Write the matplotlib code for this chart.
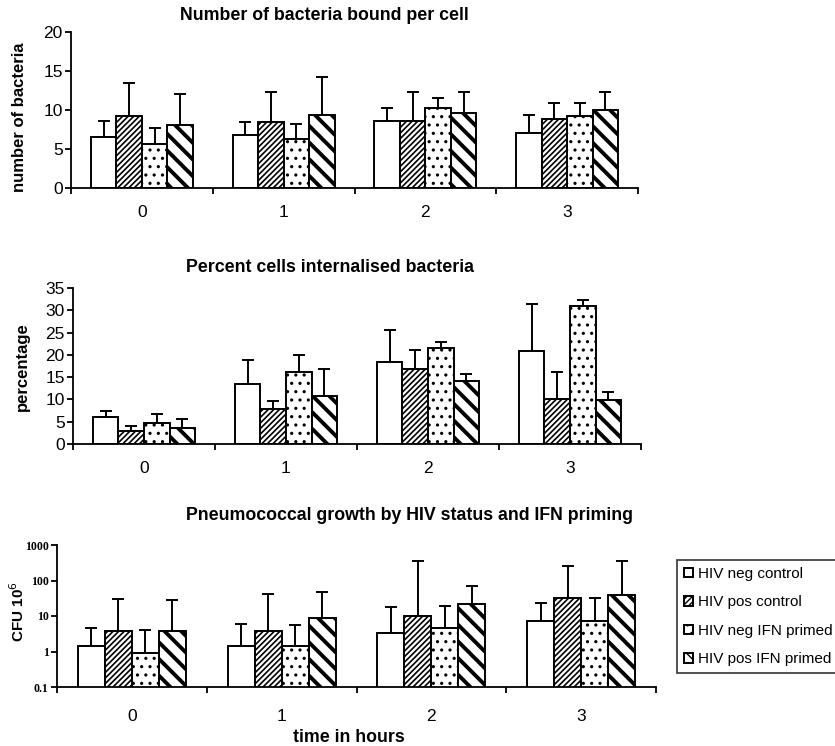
import matplotlib
matplotlib.use("Agg")
import matplotlib.pyplot as plt
import numpy as np

plt.rcParams['font.family'] = ['Liberation Sans', 'DejaVu Sans']

times = ["0", "1", "2", "3"]
series = ["HIV neg control", "HIV pos control", "HIV neg IFN primed", "HIV pos IFN primed"]

# Panel 1: number of bacteria bound per cell (mean, top of error bar)
bound_mean = [[6.5, 6.75, 8.6, 7.1],
              [9.2, 8.5, 8.6, 8.8],
              [5.6, 6.3, 10.2, 9.2],
              [8.1, 9.4, 9.6, 10.0]]
bound_top = [[8.6, 8.4, 10.3, 9.4],
             [13.4, 12.3, 12.3, 10.9],
             [7.7, 8.2, 11.5, 10.9],
             [12.1, 14.2, 12.3, 12.3]]

# Panel 2: percent cells internalised bacteria
intern_mean = [[6.0, 13.4, 18.5, 20.8],
               [2.9, 7.8, 16.8, 10.1],
               [4.7, 16.1, 21.5, 30.9],
               [3.7, 10.7, 14.1, 9.8]]
intern_top = [[7.4, 18.8, 25.6, 31.3],
              [4.0, 9.7, 21.1, 16.1],
              [6.8, 19.9, 22.8, 32.2],
              [5.7, 16.8, 15.7, 11.7]]

# Panel 3: pneumococcal growth (CFU 10^6, log scale)
growth_mean = [[1.4, 1.4, 3.3, 7.2],
               [3.7, 3.7, 10.0, 32.0],
               [0.93, 1.4, 4.6, 7.2],
               [3.7, 8.8, 21.6, 38.0]]
growth_top = [[4.5, 5.8, 17.5, 22.6],
              [31.0, 41.0, 354.0, 263.0],
              [4.0, 5.5, 19.0, 32.0],
              [28.0, 46.0, 72.0, 354.0]]

hatches = [None, '//////', '..', '\\\\']
hatch_lw = [1.0, 1.2, 1.1, 2.8]

fig = plt.figure(figsize=(8.35, 7.46), dpi=100)
W, H = 835.0, 746.0

def axes_px(l, r, t, b):
    return fig.add_axes([l / W, 1 - b / H, (r - l) / W, (b - t) / H])

ax1 = axes_px(71, 638, 32, 188)
ax2 = axes_px(73, 641, 288, 444)
ax3 = axes_px(57, 656, 545, 687)

bw = 0.18
offs = (np.arange(4) - 1.5) * bw
x = np.arange(len(times))

def draw(ax, means, tops):
    handles = []
    for i in range(4):
        m = np.array(means[i])
        t = np.array(tops[i])
        bars = ax.bar(x + offs[i], m, bw,
                      facecolor='white', edgecolor='black', linewidth=1.4,
                      hatch=hatches[i], label=series[i], zorder=2)
        for b in bars:
            if hasattr(b, 'set_hatch_linewidth'):
                b.set_hatch_linewidth(hatch_lw[i])
        ax.errorbar(x + offs[i], m, yerr=[np.zeros(4), t - m], fmt='none',
                    ecolor='black', elinewidth=1.4, capsize=4.5, capthick=1.4, zorder=1)
        handles.append(bars)
    ax.set_xlim(-0.5, 3.5)
    ax.spines['top'].set_visible(False)
    ax.spines['right'].set_visible(False)
    for s in ['left', 'bottom']:
        ax.spines[s].set_linewidth(1.3)
    ax.set_xticks(np.arange(-0.5, 4, 1))
    ax.set_xticklabels([])
    ax.set_xticks(x, minor=True)
    ax.set_xticklabels(times, minor=True, fontsize=12.5)
    ax.tick_params(axis='x', which='major', direction='out', length=4, width=1.3)
    ax.tick_params(axis='x', which='minor', length=0, pad=12)
    ax.tick_params(axis='y', direction='out', length=4, width=1.3, labelsize=12.5, pad=2)
    return handles

draw(ax1, bound_mean, bound_top)
ax1.set_ylim(0, 20)
ax1.set_yticks([0, 5, 10, 15, 20])

draw(ax2, intern_mean, intern_top)
ax2.set_ylim(0, 35)
ax2.set_yticks(range(0, 36, 5))

handles = draw(ax3, growth_mean, growth_top)
ax3.set_yscale('log')
ax3.set_ylim(0.1, 1000)
ax3.set_yticks([0.1, 1, 10, 100, 1000])
ax3.set_yticklabels(['0.1', '1', '10', '100', '1000'], fontfamily='Liberation Serif',
                    fontweight='bold', fontsize=8.5)
ax3.yaxis.set_minor_locator(matplotlib.ticker.NullLocator())
ax3.tick_params(axis='x', which='minor', pad=16)

# titles
fig.text(324 / W, 1 - 16 / H, "Number of bacteria bound per cell", ha='center', va='center',
         fontsize=12.8, fontweight='bold')
fig.text(330 / W, 1 - 268 / H, "Percent cells internalised bacteria", ha='center', va='center',
         fontsize=12.8, fontweight='bold')
fig.text(410 / W, 1 - 515 / H, "Pneumococcal growth by HIV status and IFN priming", ha='center',
         va='center', fontsize=12.8, fontweight='bold')

# y labels
fig.text(20 / W, 1 - 117 / H, "number of bacteria", rotation=90, ha='center', va='center',
         fontsize=12, fontweight='bold')
fig.text(22 / W, 1 - 367 / H, "percentage", rotation=90, ha='center', va='center',
         fontsize=12, fontweight='bold')
fig.text(18 / W, 1 - 612 / H, "CFU 10$^{6}$", rotation=90, ha='center', va='center',
         fontsize=11, fontweight='bold')

# x label
fig.text(349 / W, 1 - 737 / H, "time in hours", ha='center', va='center',
         fontsize=12.8, fontweight='bold')

leg = fig.legend(handles, series, loc='upper left', bbox_to_anchor=(677 / W, 1 - 560 / H),
                 frameon=True, fancybox=False, edgecolor='black', fontsize=11,
                 handlelength=0.6, handleheight=0.6, handletextpad=0.3,
                 labelspacing=0.95, borderpad=0.45, borderaxespad=0)
leg.get_frame().set_linewidth(1.2)

fig.savefig("out.png", dpi=100)
